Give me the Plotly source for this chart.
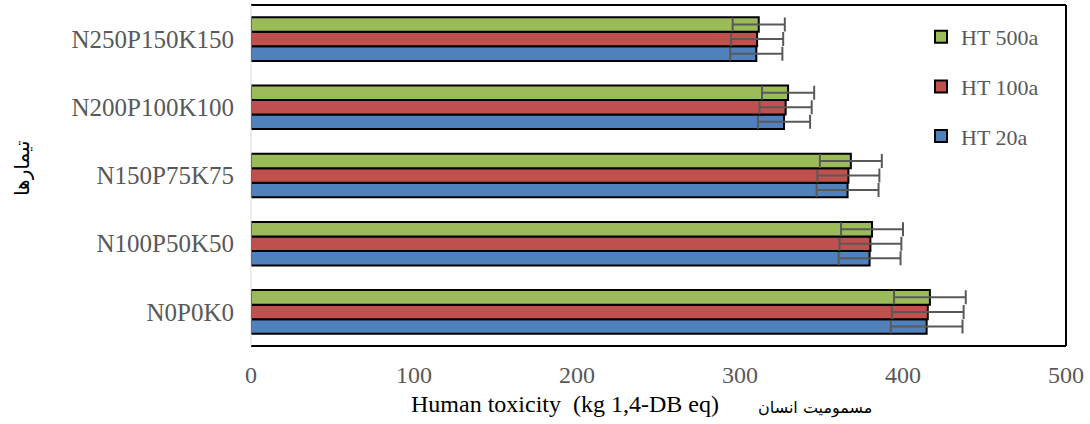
import plotly.graph_objects as go

categories = ["N0P0K0", "N100P50K50", "N150P75K75", "N200P100K100", "N250P150K150"]
series_names = ["HT 20a", "HT 100a", "HT 500a"]
ht20 = [414.5, 379.5, 366, 327, 310]
ht100 = [415.2, 380, 366.5, 328, 310.5]
ht500 = [416.5, 381, 368, 329.5, 311.5]
err = [22, 19, 19, 16, 16]
x_ticks = [0, 100, 200, 300, 400, 500]
colors = ["#4F81BD", "#C0504D", "#9BBB59"]
ranks = [3, 2, 1]

fig = go.Figure()
for name, vals, col, rk in zip(series_names, [ht20, ht100, ht500], colors, ranks):
    fig.add_trace(go.Bar(
        y=categories, x=vals, name=name, orientation="h",
        legendgroup=name, legendrank=rk,
        marker=dict(color=col, line=dict(color="black", width=2)),
        error_x=dict(type="data", array=err, visible=True, color="#595959",
                     thickness=2, width=7),
    ))

FONT = "Liberation Serif"
L, R, T, B = 251, 24, 5, 78
PW, PH = 1090 - L - R, 424 - T - B


def px(xp):
    return (xp - L) / PW


def py(yp):
    return (424 - B - yp) / PH


fig.update_layout(
    width=1090, height=424,
    margin=dict(l=L, r=R, t=T, b=B),
    paper_bgcolor="white", plot_bgcolor="white",
    barmode="group", bargap=0.36, bargroupgap=0,
    font=dict(family=FONT, color="#404040"),
    legend=dict(x=px(921), y=py(16), xanchor="left", yanchor="top",
                traceorder="grouped", tracegroupgap=18,
                font=dict(family=FONT, size=22, color="#595959"),
                bgcolor="rgba(0,0,0,0)"),
    xaxis=dict(range=[0, 500], tickvals=x_ticks, showgrid=False, zeroline=False,
               showline=False, ticks="", tickfont=dict(family=FONT, size=24, color="#595959"),
               ticklabelstandoff=12),
    yaxis=dict(showgrid=False, zeroline=False, showline=False, ticks="",
               tickfont=dict(family=FONT, size=25, color="#595959"),
               ticklabelstandoff=16),
    showlegend=True,
)

# plot-area frame
fig.add_shape(type="line", xref="paper", yref="paper", x0=0, x1=1, y0=1, y1=1,
              line=dict(color="black", width=2))
fig.add_shape(type="line", xref="paper", yref="paper", x0=1, x1=1, y0=0, y1=1,
              line=dict(color="black", width=2))
fig.add_shape(type="line", xref="paper", yref="paper", x0=0, x1=1, y0=0, y1=0,
              line=dict(color="black", width=2))
fig.add_shape(type="line", xref="paper", yref="paper", x0=0, x1=0, y0=0, y1=1,
              line=dict(color="#D9D9D9", width=1))

fig.add_annotation(text="Human toxicity  (kg 1,4-DB eq)", xref="paper", yref="paper",
                   x=px(565), y=py(404), showarrow=False,
                   xanchor="center", yanchor="middle",
                   font=dict(family=FONT, size=24, color="black"))
fig.add_annotation(text="مسمومیت انسان", xref="paper", yref="paper",
                   x=px(815), y=py(408), showarrow=False,
                   xanchor="center", yanchor="middle",
                   font=dict(family="DejaVu Sans", size=16, color="black"))
fig.add_annotation(text="تیمارها", xref="paper", yref="paper",
                   x=px(22), y=py(168), showarrow=False,
                   xanchor="center", yanchor="middle", textangle=-90,
                   font=dict(family="DejaVu Sans", size=20, color="black"))

fig.write_html("out.html")
